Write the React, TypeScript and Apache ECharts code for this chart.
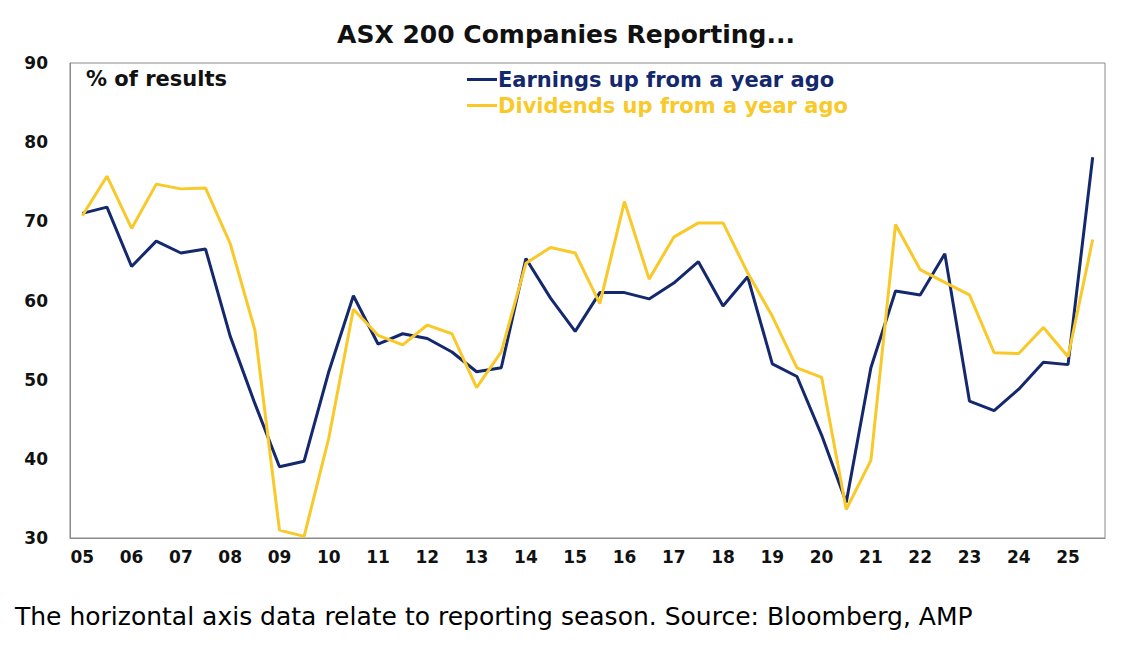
import React, { useEffect, useRef } from "react";
import * as echarts from "echarts";

const years = ["05","06","07","08","09","10","11","12","13","14","15","16","17","18","19","20","21","22","23","24","25"];
const seasons = ["Feb", "Aug"];
const categories: string[] = years.flatMap((y) => seasons.map((s) => `${s} ${y}`));

const earnings = [
  71, 71.8, 64.3, 67.5, 66, 66.5, 55.5, 47, 39, 39.7, 51, 60.6, 54.5, 55.8, 55.2, 53.5,
  51, 51.5, 65.3, 60.3, 56.1, 61, 61, 60.2, 62.2, 64.9, 59.3, 63, 52, 50.4, 43, 34.5,
  51.5, 61.2, 60.7, 65.9, 47.3, 46.1, 48.8, 52.2, 51.9, 78.1,
];
const dividends = [
  70.7, 75.7, 69.1, 74.7, 74.1, 74.2, 67.2, 56.3, 31, 30.2, 42.6, 58.9, 55.6, 54.4, 56.9, 55.8,
  49, 53.5, 64.7, 66.7, 66, 59.6, 72.5, 62.7, 68, 69.8, 69.8, 63.5, 58, 51.5, 50.3, 33.6,
  39.8, 69.6, 63.9, 62.3, 60.7, 53.4, 53.3, 56.6, 52.9, 67.7,
];

const NAVY = "#14286e";
const GOLD = "#f8c928";
const FONT = "Liberation Sans, Arial, sans-serif";
const WIDE = "DejaVu Sans, sans-serif";

const App: React.FC = () => {
  const chartRef = useRef<HTMLDivElement>(null);

  useEffect(() => {
    if (!chartRef.current) return;
    const chart = echarts.init(chartRef.current, undefined, { renderer: "svg" });
    chart.setOption({
      animation: false,
      textStyle: { fontFamily: FONT },
      title: {
        text: "ASX 200 Companies Reporting...",
        left: 561,
        top: 17,
        textAlign: "center",
        textStyle: { fontSize: 25, fontWeight: "bold", color: "#111", fontFamily: WIDE },
      },
      grid: { left: 70, right: 33, top: 63, bottom: 131, show: true, borderColor: "#8a8a8a", borderWidth: 1 },
      legend: {
        orient: "vertical",
        left: 462,
        top: 64,
        itemGap: 5,
        itemWidth: 30,
        icon: "path://M0,0H30V3H0Z",
        data: [
          { name: "Earnings up from a year ago", textStyle: { color: NAVY } },
          { name: "Dividends up from a year ago", textStyle: { color: GOLD } },
        ],
        textStyle: { fontSize: 21, fontWeight: "bold", fontFamily: WIDE, padding: [0, 0, 0, -4] },
      },
      graphic: [
        { type: "text", left: 86, top: 68, style: { text: "% of results", font: `bold 21px ${WIDE}`, fill: "#111" } },
        {
          type: "text", left: 15, top: 604,
          style: { text: "The horizontal axis data relate to reporting season. Source: Bloomberg, AMP", font: `25px ${WIDE}`, fill: "#000" },
        },
      ],
      xAxis: {
        type: "category",
        data: categories,
        boundaryGap: ["1%", "1%"],
        axisLine: { lineStyle: { color: "#8a8a8a" } },
        axisTick: { show: false },
        axisLabel: {
          interval: 0,
          margin: 10,
          color: "#111",
          fontSize: 17,
          fontWeight: "bold",
          fontFamily: WIDE,
          formatter: (v: string) => (v.startsWith("Feb") ? v.slice(4) : ""),
        },
      },
      yAxis: {
        type: "value",
        min: 30,
        max: 90,
        interval: 10,
        splitLine: { show: false },
        axisLine: { show: true, lineStyle: { color: "#8a8a8a" } },
        axisTick: { show: false },
        axisLabel: { color: "#111", fontSize: 17, fontWeight: "bold", fontFamily: WIDE, margin: 22 },
      },
      series: [
        { name: "Earnings up from a year ago", type: "line", data: earnings, symbol: "none", lineStyle: { color: NAVY, width: 3 }, itemStyle: { color: NAVY } },
        { name: "Dividends up from a year ago", type: "line", data: dividends, symbol: "none", lineStyle: { color: GOLD, width: 3 }, itemStyle: { color: GOLD } },
      ],
    });
    return () => chart.dispose();
  }, []);

  return <div ref={chartRef} style={{ position: "fixed", left: 0, top: 0, width: 1138, height: 669, background: "#fff" }} />;
};

export default App;
